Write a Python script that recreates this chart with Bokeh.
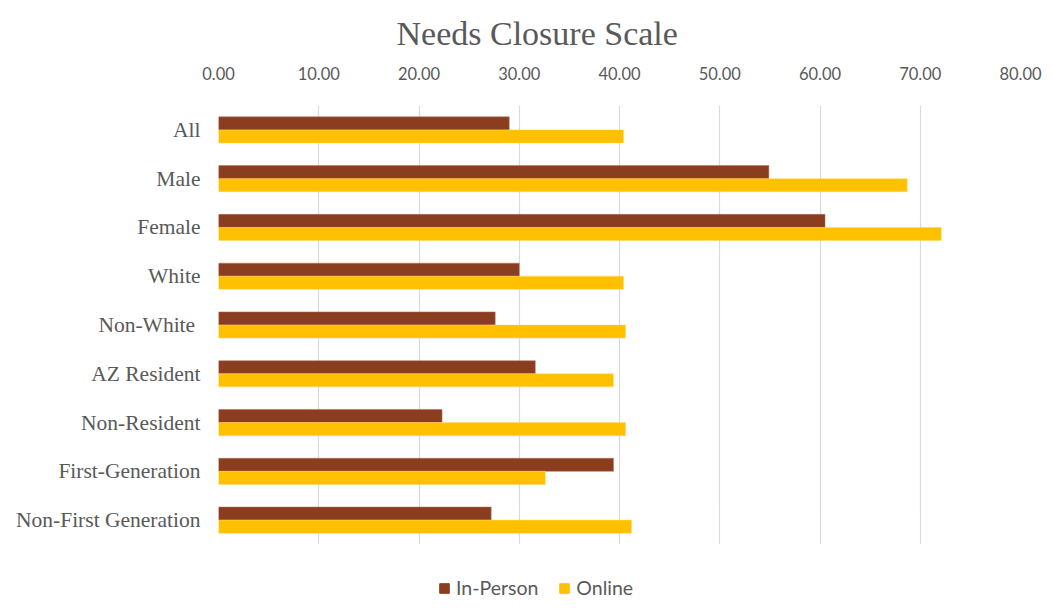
from bokeh.plotting import figure
from bokeh.layouts import column
from bokeh.models import (FactorRange, Range1d, NumeralTickFormatter, Legend,
                          LegendItem, ColumnDataSource, FixedTicker)
from bokeh.transform import dodge
from bokeh.embed import file_html
from bokeh.resources import INLINE

categories = ["All", "Male", "Female", "White", "Non-White ", "AZ Resident",
              "Non-Resident", "First-Generation", "Non-First Generation"]
in_person = [29.0, 54.9, 60.5, 30.0, 27.6, 31.6, 22.3, 39.4, 27.2]
online = [40.4, 68.7, 72.1, 40.4, 40.6, 39.4, 40.6, 32.6, 41.2]
series = ["In-Person", "Online"]
colors = ["#8B3E1F", "#FFC000"]
x_ticks = [0, 10, 20, 30, 40, 50, 60, 70, 80]

src = ColumnDataSource(dict(cat=categories, inp=in_person, onl=online))

p = figure(width=1053, height=575,
           y_range=FactorRange(*list(reversed(categories)), range_padding=0),
           x_range=Range1d(0, 80), x_axis_location="above",
           output_backend="svg", toolbar_location=None,
           min_border_left=218, min_border_right=33,
           min_border_top=105, min_border_bottom=31)

r1 = p.hbar(y=dodge("cat", 0.134, range=p.y_range), right="inp", left=0,
            height=0.268, source=src, fill_color=colors[0],
            line_color="#b07050", line_width=0.5)
r2 = p.hbar(y=dodge("cat", -0.134, range=p.y_range), right="onl", left=0,
            height=0.268, source=src, fill_color=colors[1],
            line_color="#ffd966", line_width=0.5)

p.title.text = "Needs Closure Scale"
p.title.align = "left"
p.title.offset = 178
p.title.vertical_align = "top"
p.title.text_font = "Liberation Serif"
p.title.text_font_size = "34px"
p.title.text_font_style = "normal"
p.title.text_color = "#595959"
p.title.standoff = 20

p.outline_line_color = None
p.ygrid.grid_line_color = None
p.xgrid.grid_line_color = "#d9d9d9"
p.xgrid.grid_line_width = 1.2

xa = p.xaxis[0]
xa.ticker = FixedTicker(ticks=x_ticks)
xa.formatter = NumeralTickFormatter(format="0.00")
xa.axis_line_color = None
xa.major_tick_line_color = None
xa.minor_tick_line_color = None
xa.major_label_text_font = "Lato"
xa.major_label_text_font_size = "16.5px"
xa.major_label_text_color = "#595959"
xa.major_label_standoff = 20

ya = p.yaxis[0]
ya.axis_line_color = None
ya.major_tick_line_color = None
ya.minor_tick_line_color = None
ya.major_label_text_font = "Liberation Serif"
ya.major_label_text_font_size = "21.5px"
ya.major_label_text_color = "#595959"
ya.major_label_standoff = 12

# legend strip below the chart (its renderers are hidden; only the legend shows)
lg = figure(width=1053, height=38, x_range=Range1d(0, 1), y_range=Range1d(0, 1),
            output_backend="svg", toolbar_location=None,
            x_axis_type=None, y_axis_type=None, min_border=0)
lg.outline_line_color = None
lg.grid.visible = False
d1 = lg.hbar(y="inp", right="inp", left="inp", height=0, source=src,
             fill_color=colors[0], line_color=colors[0], visible=False)
d2 = lg.hbar(y="onl", right="onl", left="onl", height=0, source=src,
             fill_color=colors[1], line_color=colors[1], visible=False)
legend = Legend(items=[LegendItem(label=series[0], renderers=[d1]),
                       LegendItem(label=series[1], renderers=[d2])],
                orientation="horizontal", location=(220, 14),
                border_line_color=None, background_fill_alpha=0,
                inactive_fill_alpha=0,
                label_text_font="Lato", label_text_font_size="19.5px",
                label_text_color="#595959", glyph_width=12, glyph_height=12,
                spacing=20, padding=0, margin=0, label_standoff=6)
lg.add_layout(legend, "center")

layout = column(p, lg, spacing=0)
open("out.html", "w").write(file_html(layout, INLINE))
